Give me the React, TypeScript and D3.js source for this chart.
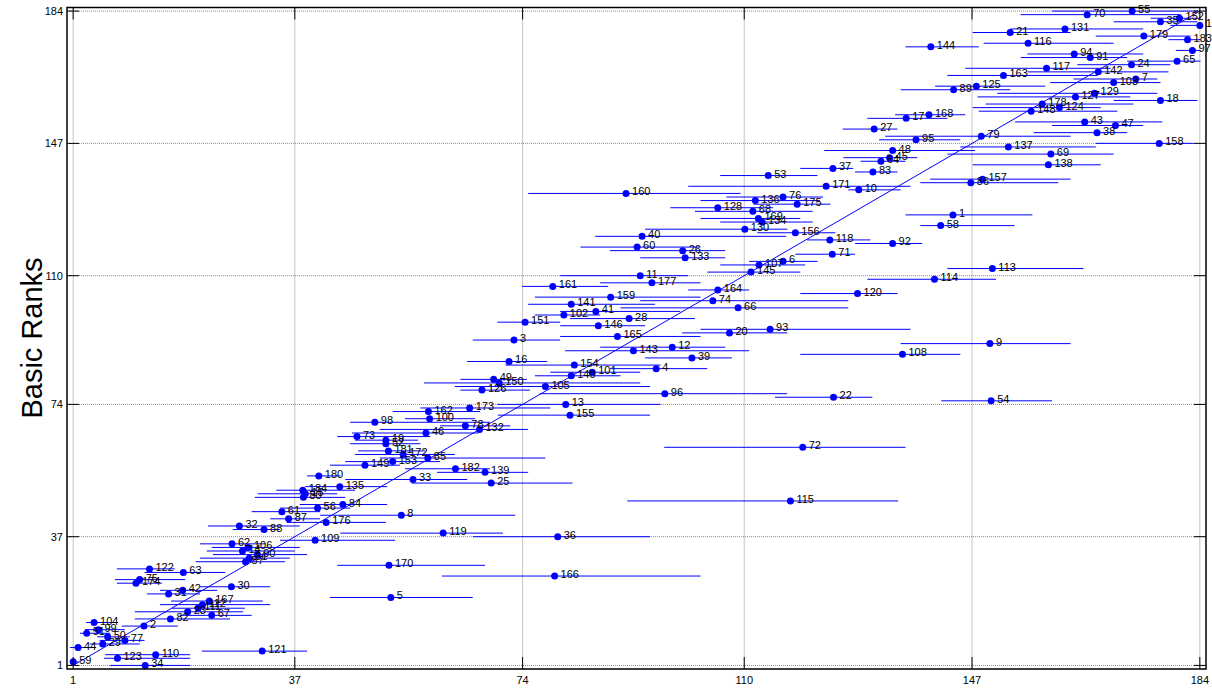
import React from "react";
import * as d3 from "d3";

// Data ordered by basic rank
const basicRanks = [
  1,2,3,4,5,6,7,8,9,10,11,12,13,14,15,16,17,18,19,20,
  21,22,23,24,25,26,27,28,29,30,31,32,33,34,35,36,37,38,39,40,
  41,42,43,44,45,46,47,48,49,50,51,52,53,54,55,56,57,58,59,60,
  61,62,63,64,65,66,67,68,69,70,71,72,73,74,75,76,77,78,79,80,
  81,82,83,84,85,86,87,88,89,90,91,92,93,94,95,96,97,98,99,100,
  101,102,103,104,105,106,107,108,109,110,111,112,113,114,115,116,117,118,119,120,
  121,122,123,124,125,126,127,128,129,130,131,132,133,134,135,136,137,138,139,140,
  141,142,143,144,145,146,147,148,149,150,151,152,153,154,155,156,157,158,159,160,
  161,162,163,164,165,166,167,168,169,170,171,172,173,174,175,176,177,178,179,180,
  181,182,183,184,
];

const labels = [
  34,59,123,110,121,44,29,77,50,51,99,2,104,82,67,23,111,112,167,5,
  31,42,30,174,75,166,63,122,170,57,81,90,14,106,62,109,36,119,88,32,
  176,87,8,61,56,84,115,80,15,184,135,25,33,180,139,182,149,153,85,172,
  181,72,52,19,73,46,132,78,98,100,155,162,173,13,54,22,96,126,105,150,
  49,140,101,4,154,16,39,108,143,12,9,3,165,20,93,146,151,28,102,41,
  66,141,74,159,120,164,161,177,114,11,145,113,107,6,133,71,26,60,92,118,
  40,156,130,58,134,169,1,68,128,175,136,76,160,10,171,86,157,53,83,37,
  138,64,45,69,48,137,158,95,79,38,27,47,43,17,168,148,124,178,18,127,
  129,89,125,103,7,163,142,117,24,65,91,94,97,144,116,183,179,21,131,147,
  35,152,70,55,
];

const meanRanks = [
  12.7,1.0,8.2,14.4,31.7,1.8,5.8,9.4,6.6,3.2,5.1,12.5,4.4,16.8,23.5,19.6,21.3,22.0,23.1,52.6,
  16.5,18.8,26.7,11.2,11.8,79.2,18.9,13.4,52.3,29.0,29.6,30.9,28.5,29.4,26.8,40.3,79.7,61.1,32.0,28.0,
  42.1,36.0,54.3,34.9,40.7,44.8,117.5,38.4,38.7,38.3,44.3,68.9,56.2,40.9,67.9,63.1,48.4,52.9,58.6,54.6,
  52.2,119.5,51.8,51.8,47.1,58.3,67.0,64.7,50.0,58.9,81.7,58.7,65.4,81.0,150.1,124.5,97.1,67.4,77.7,70.2,
  69.3,81.9,85.3,95.7,82.4,71.8,101.5,135.7,92.0,98.3,149.9,72.6,89.4,107.6,114.2,86.3,74.4,91.3,80.7,85.9,
  109.0,81.9,104.9,88.3,128.4,105.7,78.9,95.0,140.9,93.1,111.1,150.3,112.4,116.3,100.4,124.3,100.0,92.6,134.1,123.9,
  93.4,118.3,110.1,141.9,112.9,112.3,143.9,111.4,105.7,118.6,111.8,116.3,90.8,128.6,123.3,146.8,148.7,113.9,130.9,124.4,
  159.4,132.2,133.6,159.8,134.1,152.9,177.4,137.9,148.5,167.3,131.1,170.3,165.3,136.3,140.0,156.6,161.2,158.4,177.6,163.8,
  166.9,144.0,147.7,170.0,173.6,152.1,167.5,159.1,172.9,180.3,166.2,163.6,182.8,140.3,156.1,182.0,174.9,153.2,162.1,184.0,
  177.6,180.7,165.7,173.0,
];

const lowerRanks = [
  7.0,0.5,6.0,6.2,21.9,0.5,3.7,5.3,4.9,2.1,2.9,8.9,3.1,11.0,18.3,11.0,17.0,15.1,16.9,42.7,
  13.0,15.1,21.6,8.1,7.8,60.9,12.6,8.1,43.9,20.9,21.6,23.7,22.7,23.5,21.6,34.6,65.9,44.4,26.9,22.9,
  35.7,33.0,41.1,30.0,34.6,37.8,91.0,30.5,31.0,34.0,38.7,56.0,45.2,39.0,60.1,54.9,42.7,45.2,50.8,46.8,
  47.3,97.0,46.0,46.8,43.9,46.3,50.8,60.6,46.0,54.9,70.0,52.9,57.4,69.9,142.0,115.0,76.8,63.9,63.0,58.0,
  63.9,76.0,78.5,88.2,71.2,65.0,93.9,119.1,80.9,86.6,135.4,65.9,80.1,99.9,102.9,80.1,69.9,81.7,76.0,80.1,
  89.9,74.9,93.1,76.0,119.1,100.9,73.9,86.6,130.0,80.1,104.0,143.0,106.1,110.8,93.1,118.3,88.2,83.4,128.0,120.2,
  85.8,112.1,93.9,138.6,106.1,102.9,136.2,102.0,98.0,111.5,102.9,107.1,74.9,126.9,100.9,138.6,140.2,106.1,128.0,119.1,
  147.1,128.9,126.1,143.0,123.0,145.1,167.1,131.9,132.9,157.0,126.0,160.0,154.0,130.0,134.5,148.1,147.1,149.2,170.0,147.9,
  151.1,135.4,141.0,159.7,163.5,143.0,156.0,145.9,164.1,172.2,154.9,156.0,180.1,136.2,148.9,178.9,167.1,147.1,153.2,179.2,
  170.0,176.0,154.9,160.0,
];

const upperRanks = [
  20.0,1.8,20.0,20.0,39.0,4.5,11.8,12.6,10.2,7.0,9.4,18.0,8.1,26.5,30.0,28.6,28.9,33.0,31.8,65.9,
  21.6,24.4,33.0,15.4,19.2,102.9,25.7,17.5,67.9,35.4,36.2,39.0,37.0,37.8,32.2,53.3,94.7,70.8,34.6,37.8,
  51.8,41.1,72.8,41.1,46.0,52.0,135.0,45.2,43.9,46.8,52.0,82.1,65.0,44.4,74.9,68.7,54.1,60.6,77.7,63.0,
  58.2,136.2,57.4,57.0,59.0,66.8,74.9,72.0,68.7,66.3,94.7,67.1,78.5,96.4,160.0,130.8,117.0,75.2,94.7,93.1,
  74.7,89.9,93.1,104.0,96.4,78.0,108.0,145.1,110.8,106.9,163.0,80.1,102.9,117.0,137.0,93.9,80.1,102.0,86.6,99.6,
  126.9,95.5,126.9,102.9,134.9,110.8,87.9,102.9,150.9,100.9,119.1,165.1,119.9,121.9,106.9,128.0,106.9,102.9,138.9,130.5,
  116.8,124.8,117.0,153.9,121.1,119.1,156.8,121.1,114.7,124.0,122.3,122.8,109.4,135.4,137.0,161.0,163.0,121.9,134.9,127.7,
  167.9,136.2,138.1,170.0,147.5,167.1,183.0,145.1,163.0,172.2,134.9,174.8,177.9,143.0,145.9,170.6,167.9,173.2,183.6,172.7,
  177.1,153.2,158.9,177.6,177.1,167.4,178.9,169.5,179.2,184.1,172.2,174.8,184.1,148.1,170.0,184.1,182.5,163.0,174.8,184.0,
  183.6,184.0,180.9,183.6,
];

const tickValues = [1, 37, 74, 110, 147, 184];
const yTitle = "Basic Ranks";

const W = 1212;
const H = 689;
const L = 67;
const R = 1206;
const T = 7.5;
const B = 669;

export default function App() {
  const x = d3.scaleLinear().domain([0, 185]).range([L, R]);
  const y = d3.scaleLinear().domain([0, 185]).range([B, T]);
  const font = "'Liberation Sans', Arial, Helvetica, sans-serif";
  const pts = basicRanks.map((r, i) => ({
    r,
    id: labels[i],
    m: meanRanks[i],
    lo: lowerRanks[i],
    hi: upperRanks[i],
  }));
  const diag = d3.line<number>().x((d) => x(d)).y((d) => y(d));
  return (
    <svg
      width={W}
      height={H}
      style={{ position: "absolute", left: 0, top: 0, background: "#fff" }}
      fontFamily={font}
    >
      <rect x={0} y={0} width={W} height={H} fill="#fff" />
      {tickValues.map((t) => (
        <g key={"g" + t}>
          <line x1={x(t)} x2={x(t)} y1={T} y2={B} stroke="#8a8a8a" strokeWidth={1} strokeDasharray="1 1" />
          <line x1={L} x2={R} y1={y(t)} y2={y(t)} stroke="#8a8a8a" strokeWidth={1} strokeDasharray="1 1" />
        </g>
      ))}
      {pts.map((p) => (
        <line
          key={"e" + p.id}
          x1={x(p.lo)}
          x2={x(p.hi)}
          y1={y(p.r)}
          y2={y(p.r)}
          stroke="#0000ff"
          strokeWidth={1}
        />
      ))}
      <path d={diag([1, 184]) || ""} stroke="#0000ff" strokeWidth={1} fill="none" />
      {pts.map((p) => (
        <circle key={"c" + p.id} cx={x(p.m)} cy={y(p.r)} r={3.5} fill="#0000ff" />
      ))}
      {pts.map((p) => (
        <text key={"t" + p.id} x={x(p.m) + 6} y={y(p.r) + 2} fontSize={11} fill="#000">
          {p.id}
        </text>
      ))}
      <rect x={L} y={T} width={R - L} height={B - T} fill="none" stroke="#000" strokeWidth={1.5} />
      {tickValues.map((t) => (
        <g key={"k" + t} stroke="#000" strokeWidth={1}>
          <line x1={x(t)} x2={x(t)} y1={B} y2={B - 12} />
          <line x1={x(t)} x2={x(t)} y1={T} y2={T + 12} />
          <line x1={L} x2={L + 12} y1={y(t)} y2={y(t)} />
          <line x1={R} x2={R - 12} y1={y(t)} y2={y(t)} />
        </g>
      ))}
      {tickValues.map((t) => (
        <text key={"xl" + t} x={x(t)} y={B + 15} fontSize={11} textAnchor="middle" fill="#000">
          {t}
        </text>
      ))}
      {tickValues.map((t) => (
        <text key={"yl" + t} x={L - 4} y={y(t) + 4} fontSize={11} textAnchor="end" fill="#000">
          {t}
        </text>
      ))}
      <text
        transform={`translate(${42},${338}) rotate(-90)`}
        textAnchor="middle"
        fontSize={29}
        fill="#000"
      >
        {yTitle}
      </text>
    </svg>
  );
}
